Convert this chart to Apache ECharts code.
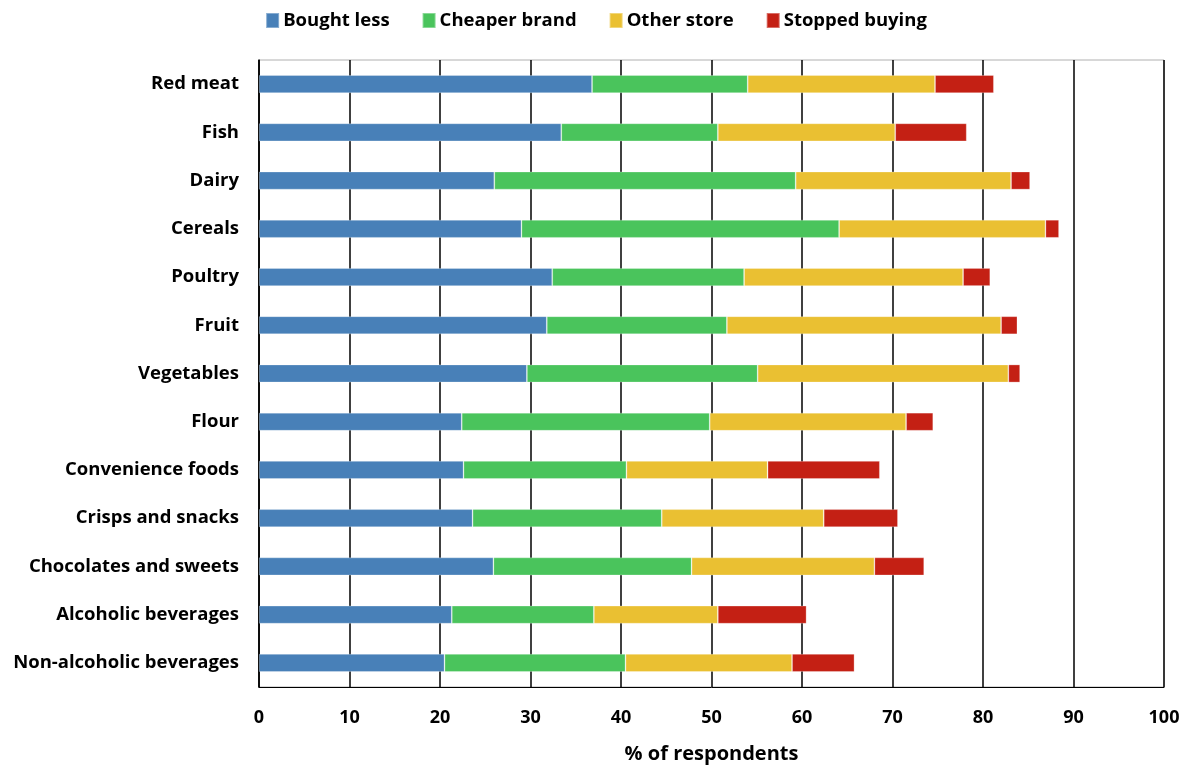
<!DOCTYPE html>
<html><head><meta charset="utf-8">
<script src="https://cdn.jsdelivr.net/npm/echarts@6/dist/echarts.min.js"></script>
<style>html,body{margin:0;padding:0;background:#fff}#c{width:1192px;height:769px}</style>
</head><body><div id="c"></div>
<script>
const categories = ["Red meat","Fish","Dairy","Cereals","Poultry","Fruit","Vegetables","Flour","Convenience foods","Crisps and snacks","Chocolates and sweets","Alcoholic beverages","Non-alcoholic beverages"];
const boughtLess   = [36.8,33.4,26.0,29.0,32.4,31.8,29.6,22.4,22.6,23.6,25.9,21.3,20.5];
const cheaperBrand = [17.2,17.3,33.3,35.1,21.2,19.9,25.5,27.4,18.0,20.9,21.9,15.7,20.0];
const otherStore   = [20.7,19.6,23.8,22.8,24.2,30.3,27.7,21.7,15.6,17.9,20.2,13.7,18.4];
const stoppedBuying= [6.5,7.9,2.1,1.5,3.0,1.8,1.3,3.0,12.4,8.2,5.5,9.8,6.9];
const xTicks = [0,10,20,30,40,50,60,70,80,90,100];

const font = '"Open Sans"';
const names = ["Bought less","Cheaper brand","Other store","Stopped buying"];
const colors = ["#4880B8","#4AC45C","#EAC032","#C42014"];
const data = [boughtLess, cheaperBrand, otherStore, stoppedBuying];

const chart = echarts.init(document.getElementById('c'));
chart.setOption({
  animation:false,
  color: colors,
  legend:{
    top:6, left:'center', itemWidth:13, itemHeight:15, itemGap:32,
    icon:'rect',
    textStyle:{fontFamily:font,fontWeight:'bold',fontSize:18.5,color:'#000',padding:[0,0,0,-1]},
    data:names
  },
  grid:{left:259,right:28,top:60,bottom:79,show:true,borderColor:'#b0b0b0',borderWidth:1},
  xAxis:{
    type:'value',min:0,max:100,interval:10,
    axisLine:{show:true,lineStyle:{color:'#000',width:1}},
    axisTick:{show:false},
    splitLine:{show:true,lineStyle:{color:'#000',width:1.5}},
    axisLabel:{fontFamily:font,fontWeight:'bold',fontSize:18,color:'#000',margin:22,
      formatter:v=>xTicks.includes(v)?String(v):''},
    name:'% of respondents',nameLocation:'middle',nameGap:57,
    nameTextStyle:{fontFamily:font,fontWeight:'bold',fontSize:20,color:'#000'}
  },
  yAxis:{
    type:'category',data:categories,inverse:true,
    axisLine:{show:true,lineStyle:{color:'#000',width:1.5}},
    axisTick:{show:false},
    axisLabel:{fontFamily:font,fontWeight:'bold',fontSize:18.5,color:'#000',margin:20}
  },
  series: names.map((n,i)=>({
    name:n,type:'bar',stack:'total',barWidth:18,data:data[i],
    itemStyle:{color:colors[i],borderColor:'rgba(255,255,255,0.35)',borderWidth:0.8}
  }))
});
</script></body></html>
